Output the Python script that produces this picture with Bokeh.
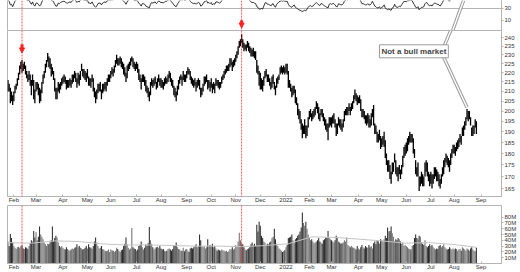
import numpy as np
import pandas as pd
from bokeh.plotting import figure
from bokeh.layouts import column
from bokeh.models import (Range1d, FixedTicker, Span, Label, Arrow, NormalHead,
                          LinearAxis, PrintfTickFormatter, ColumnDataSource)
from bokeh.embed import file_html
from bokeh.resources import INLINE

# ---------------- data ----------------
holidays = ["2021-02-15", "2021-04-02", "2021-05-31", "2021-07-05", "2021-09-06",
            "2021-11-25", "2021-12-24", "2022-01-17", "2022-02-21", "2022-04-15",
            "2022-05-30", "2022-06-20", "2022-07-04"]
month_labels = ["Feb", "Mar", "Apr", "May", "Jun", "Jul", "Aug", "Sep", "Oct", "Nov",
                "Dec", "2022", "Feb", "Mar", "Apr", "May", "Jun", "Jul", "Aug", "Sep"]
price_ticks = [165, 170, 175, 180, 185, 190, 195, 200, 205, 210, 215, 220, 225, 230, 235, 240]
rsi_ticks = [10, 30]
vol_ticks = [10, 20, 30, 40, 50, 60, 70, 80]

low = (
    [210, 210, 204, 205, 203]
    + [205, 209, 211, 213, 216, 219, 222, 220, 221, 222, 219, 217, 215, 216, 213, 208, 213, 206, 204]
    + [210, 211, 208, 204, 205, 209, 214, 217, 220, 223, 226, 223, 222, 218, 219, 216, 210, 206, 206, 210, 209, 211, 213]
    + [214, 215, 214, 211, 212, 212, 213, 212, 214, 215, 217, 215, 212, 214, 213, 216, 221, 218, 217, 216, 215]
    + [217, 213, 213, 212, 215, 210, 207, 204, 206, 209, 210, 210, 206, 209, 210, 211, 210, 213, 215, 215]
    + [217, 219, 218, 220, 223, 225, 224, 224, 225, 223, 222, 219, 218, 215, 217, 221, 222, 224, 226, 223, 222, 221]
    + [222, 220, 216, 215, 211, 215, 215, 213, 210, 209, 207, 205, 208, 213, 212, 213, 214, 211, 212, 215, 213]
    + [212, 212, 211, 213, 214, 214, 215, 217, 215, 213, 212, 208, 207, 205, 208, 211, 214, 216, 213, 216, 215, 215]
    + [217, 219, 219, 216, 214, 213, 212, 213, 210, 212, 213, 211, 207, 208, 210, 213, 214, 215, 211, 212, 210]
    + [212, 209, 211, 209, 213, 213, 212, 211, 212, 214, 216, 217, 219, 220, 221, 221, 223, 224, 221, 223, 224]
    + [226, 228, 230, 234, 235, 237, 234, 232, 233, 232, 234, 232, 231, 229, 229, 229, 228, 227, 220, 219, 213]
    + [211, 211, 210, 213, 217, 218, 215, 215, 213, 211, 212, 214, 211, 208, 212, 214, 216, 219, 220, 219, 220, 219]
    + [220, 219, 212, 212, 210, 207, 208, 209, 204, 203, 198, 196, 194, 191, 187, 189, 189, 187, 188, 192]
    + [196, 197, 195, 196, 197, 198, 201, 199, 196, 195, 198, 197, 195, 193, 191, 190, 186, 192, 193]
    + [192, 194, 194, 192, 188, 189, 193, 192, 191, 190, 192, 195, 198, 198, 198, 200, 198, 200, 201, 204, 206, 205, 203]
    + [204, 204, 200, 197, 197, 196, 194, 193, 194, 192, 192, 193, 197, 193, 189, 189, 185, 185, 186, 182]
    + [183, 184, 183, 178, 175, 172, 172, 169, 167, 171, 172, 176, 171, 170, 168, 171, 169, 171, 174, 178, 179]
    + [180, 181, 184, 185, 185, 185, 180, 178, 171, 170, 170, 164, 166, 167, 166, 166, 170, 172, 170, 168, 166]
    + [167, 165, 167, 169, 170, 168, 168, 166, 165, 167, 170, 171, 174, 176, 175, 174, 172, 175, 178, 180]
    + [180, 179, 181, 182, 183, 185, 184, 188, 188, 191, 193, 196, 195, 196, 193, 188, 188, 189, 192, 189]
)
high = (
    [216, 214, 212, 210, 208]
    + [210, 213, 214, 217, 220, 224, 226, 227, 225, 226, 224, 221, 219, 221, 219, 216, 219, 216, 211]
    + [215, 215, 214, 212, 211, 215, 219, 221, 225, 227, 231, 229, 228, 225, 223, 221, 217, 212, 212, 215, 214, 215, 217]
    + [218, 219, 218, 216, 216, 216, 217, 216, 219, 219, 221, 220, 217, 220, 219, 221, 225, 222, 222, 221, 220]
    + [222, 218, 217, 217, 219, 217, 212, 210, 211, 214, 214, 215, 211, 214, 214, 215, 215, 217, 219, 219]
    + [221, 223, 222, 224, 227, 230, 228, 228, 229, 228, 226, 225, 223, 220, 224, 225, 226, 228, 229, 228, 226, 225]
    + [226, 225, 222, 219, 217, 219, 219, 218, 216, 213, 212, 210, 215, 217, 216, 217, 218, 215, 217, 219, 217]
    + [217, 216, 215, 217, 218, 217, 219, 221, 220, 217, 216, 213, 212, 210, 213, 216, 218, 219, 218, 221, 219, 219]
    + [221, 223, 222, 221, 218, 217, 216, 217, 215, 216, 217, 216, 212, 212, 214, 218, 218, 219, 216, 216, 215]
    + [217, 214, 215, 214, 217, 216, 216, 215, 215, 218, 219, 221, 222, 224, 224, 225, 228, 228, 226, 227, 228]
    + [230, 232, 235, 238, 239, 242, 239, 237, 236, 236, 238, 237, 235, 234, 233, 234, 232, 232, 227, 224, 221]
    + [220, 217, 216, 218, 221, 222, 219, 219, 217, 215, 218, 219, 215, 213, 217, 218, 219, 223, 224, 223, 224, 223]
    + [225, 225, 221, 216, 214, 212, 213, 213, 211, 207, 204, 201, 200, 196, 194, 193, 196, 193, 193, 197]
    + [200, 201, 199, 200, 201, 202, 205, 204, 202, 199, 201, 201, 199, 197, 196, 194, 194, 197, 197]
    + [197, 198, 199, 196, 194, 194, 197, 196, 196, 194, 196, 200, 201, 202, 202, 204, 202, 204, 205, 208, 211, 209, 208]
    + [207, 208, 206, 201, 201, 200, 198, 198, 199, 198, 196, 199, 201, 203, 194, 193, 190, 189, 191, 188]
    + [187, 188, 190, 186, 180, 177, 177, 175, 172, 176, 176, 180, 177, 174, 174, 175, 173, 175, 179, 183, 184]
    + [185, 187, 188, 190, 189, 189, 187, 182, 177, 174, 176, 170, 170, 172, 171, 170, 176, 177, 176, 172, 171]
    + [172, 171, 171, 174, 174, 173, 172, 171, 169, 171, 174, 177, 178, 180, 179, 178, 177, 180, 182, 184]
    + [184, 183, 185, 186, 187, 189, 188, 192, 193, 195, 197, 201, 200, 200, 197, 192, 193, 193, 196, 195]
)
volume = (  # millions
    [38, 30, 51, 44, 36]
    + [30, 27, 25, 28, 29, 27, 30, 31, 26, 25, 28, 27, 25, 30, 35, 40, 38, 56, 45]
    + [54, 40, 46, 64, 50, 46, 42, 36, 33, 30, 34, 33, 36, 40, 64, 38, 44, 48, 45, 36, 30, 28, 30]
    + [27, 25, 24, 28, 25, 23, 22, 24, 26, 25, 27, 28, 33, 28, 30, 27, 26, 24, 25, 27, 30]
    + [26, 33, 28, 27, 25, 30, 38, 45, 36, 30, 26, 27, 30, 25, 24, 22, 21, 22, 24, 20]
    + [24, 23, 22, 20, 22, 27, 25, 22, 20, 23, 24, 30, 34, 45, 33, 27, 24, 26, 61, 28, 26, 25]
    + [22, 24, 30, 32, 38, 28, 24, 27, 33, 30, 35, 63, 40, 34, 28, 24, 26, 28, 29, 27, 30]
    + [26, 24, 25, 22, 21, 22, 25, 26, 24, 22, 25, 30, 32, 36, 28, 25, 24, 22, 22, 27, 21, 24]
    + [25, 22, 20, 26, 27, 26, 28, 30, 33, 28, 30, 50, 40, 30, 28, 30, 26, 28, 42, 30, 32]
    + [30, 34, 28, 30, 26, 22, 24, 23, 22, 24, 23, 22, 21, 22, 20, 21, 25, 24, 28, 24, 26]
    + [32, 30, 38, 53, 40, 35, 33, 28, 24, 23, 25, 26, 28, 33, 36, 32, 34, 30, 67, 55, 72]
    + [65, 48, 44, 38, 36, 32, 34, 33, 36, 38, 44, 46, 60, 42, 34, 30, 26, 24, 22, 20, 21, 23]
    + [28, 32, 44, 45, 46, 50, 40, 35, 42, 44, 48, 50, 55, 62, 88, 70, 65, 72, 60, 50]
    + [45, 40, 42, 38, 35, 36, 38, 40, 44, 38, 36, 34, 40, 42, 45, 44, 56, 44, 42]
    + [40, 38, 36, 40, 48, 44, 38, 36, 34, 35, 36, 40, 38, 45, 32, 30, 28, 30, 28, 27, 26, 24, 30]
    + [26, 24, 28, 32, 28, 26, 30, 28, 27, 32, 28, 30, 26, 35, 38, 33, 40, 38, 34, 42]
    + [40, 38, 42, 48, 44, 62, 55, 56, 64, 52, 46, 38, 42, 40, 44, 42, 38, 34, 36, 30, 32]
    + [30, 28, 26, 25, 24, 30, 32, 44, 50, 44, 42, 48, 46, 36, 34, 32, 40, 30, 28, 30, 33]
    + [30, 32, 28, 26, 24, 26, 25, 30, 32, 28, 30, 33, 28, 26, 24, 25, 28, 26, 24, 26]
    + [24, 26, 25, 22, 24, 25, 22, 28, 26, 24, 22, 26, 24, 22, 26, 28, 24, 22, 21, 27]
)
rsi = (
    [44, 42, 36, 37, 33]
    + [38, 42, 44, 47, 49, 51, 52, 51, 50, 50, 47, 44, 43, 44, 40, 37, 41, 36, 34]
    + [39, 39, 37, 34, 36, 41, 45, 47, 49, 50, 51, 48, 48, 44, 43, 41, 37, 34, 34, 39, 38, 40, 41]
    + [42, 42, 41, 39, 39, 40, 41, 40, 43, 44, 45, 43, 40, 42, 41, 44, 47, 45, 44, 44, 43]
    + [44, 39, 39, 38, 41, 37, 34, 32, 34, 38, 39, 39, 36, 39, 40, 41, 40, 43, 44, 44]
    + [44, 45, 44, 46, 48, 49, 48, 48, 48, 47, 44, 42, 40, 37, 41, 44, 45, 48, 49, 45, 44, 43]
    + [44, 42, 39, 37, 34, 38, 38, 37, 34, 33, 32, 31, 37, 40, 39, 40, 41, 38, 40, 43, 41]
    + [40, 40, 39, 41, 42, 42, 44, 45, 44, 41, 39, 36, 34, 33, 37, 40, 43, 45, 44, 45, 44, 44]
    + [45, 47, 45, 42, 40, 39, 38, 39, 37, 39, 40, 39, 34, 35, 38, 41, 42, 43, 39, 40, 38]
    + [40, 36, 38, 37, 41, 41, 40, 39, 40, 43, 45, 45, 47, 48, 47, 48, 50, 49, 45, 47, 48]
    + [48, 50, 52, 54, 55, 56, 51, 49, 49, 48, 48, 45, 43, 41, 40, 40, 39, 38, 33, 32, 29]
    + [29, 30, 29, 34, 39, 40, 37, 37, 36, 34, 37, 38, 34, 32, 37, 39, 41, 42, 43, 42, 43, 42]
    + [42, 42, 37, 34, 33, 32, 34, 36, 32, 31, 29, 28, 27, 26, 25, 26, 27, 26, 29, 32]
    + [34, 35, 33, 34, 36, 38, 40, 38, 36, 35, 38, 38, 36, 34, 33, 32, 31, 37, 38]
    + [37, 38, 38, 36, 33, 33, 38, 37, 36, 36, 38, 42, 44, 45, 44, 46, 44, 47, 48, 49, 50, 48, 45]
    + [45, 46, 42, 38, 38, 37, 36, 36, 38, 36, 36, 38, 42, 38, 34, 33, 31, 31, 33, 30]
    + [32, 33, 36, 31, 29, 28, 29, 28, 27, 31, 32, 37, 33, 32, 32, 34, 33, 36, 39, 42, 42]
    + [41, 43, 43, 44, 44, 43, 39, 36, 32, 31, 33, 28, 30, 32, 32, 33, 38, 40, 39, 36, 34]
    + [36, 34, 37, 39, 39, 37, 37, 36, 34, 37, 40, 44, 45, 47, 45, 44, 42, 45, 48, 49]
    + [48, 47, 49, 49, 50, 51, 50, 53, 53, 55, 56, 57, 54, 53, 49, 46, 45, 46, 48, 44]
)
vol_ma_day = [0, 20, 40, 60, 80, 100, 120, 140, 160, 180, 200, 220, 240, 260, 280, 300, 320, 340, 360, 380, 401]
vol_ma = [36, 35, 39, 38, 34, 32, 32, 31, 30, 30, 29, 31, 34, 46, 45, 42, 39, 35, 36, 33, 28]

# ---------------- calendar (trading-day index axis) ----------------
days = pd.bdate_range("2021-01-25", "2022-09-01")
days = days[~days.isin(pd.to_datetime(holidays))]
all_idx = np.arange(len(days))
month_first = pd.Series(all_idx, index=days).groupby([days.year, days.month]).min().values[1:]
n = len(low)
idx = all_idx[:n]

FONT = "Liberation Sans"
GRAY = "#b4b4b4"
TXT = "#333333"
RED = "#ff2020"
xr = Range1d(-0.43, 422.5)


def style_axis(ax):
    ax.axis_line_color = GRAY
    ax.major_tick_line_color = GRAY
    ax.major_tick_in = 0
    ax.major_tick_out = 2
    ax.minor_tick_line_color = None
    ax.major_label_text_font = FONT
    ax.major_label_text_font_size = "6px"
    ax.major_label_text_color = TXT
    ax.major_label_standoff = 1


def make(height, yr, ytype="linear", xaxis=True):
    p = figure(width=520, height=height, x_range=xr, y_range=yr, y_axis_type=ytype,
               y_axis_location="right", x_axis_location="below" if xaxis else None,
               output_backend="svg", toolbar_location=None,
               min_border_left=7, min_border_right=19, min_border_top=0, min_border_bottom=0,
               outline_line_color=GRAY, background_fill_color="white", border_fill_color="white")
    p.xgrid.visible = False
    p.ygrid.visible = False
    style_axis(p.yaxis[0])
    if xaxis:
        xa = p.xaxis[0]
        style_axis(xa)
        xa.major_tick_out = 0
        xa.major_tick_in = 2
        xa.major_label_standoff = 0
        xa.ticker = FixedTicker(ticks=[int(t) for t in month_first])
        xa.major_label_overrides = {int(t): s for t, s in zip(month_first, month_labels)}
    return p


peak1 = int(np.argmax(high[:24]))
peak2 = int(np.argmax(high))
peak3 = n - 30 + int(np.argmax(high[-30:]))

# ---------------- top indicator panel ----------------
ptop = make(30, Range1d(-6.7, 43.3), xaxis=False)
ptop.outline_line_color = None
ptop.yaxis[0].ticker = FixedTicker(ticks=rsi_ticks)
ptop.ygrid.visible = True
ptop.ygrid.ticker = FixedTicker(ticks=[30])
ptop.ygrid.grid_line_color = GRAY
ptop.add_layout(LinearAxis(ticker=FixedTicker(ticks=[]), axis_line_color=GRAY,
                           major_label_text_font_size="0px", major_tick_line_color=None,
                           minor_tick_line_color=None), "left")
ptop.line(idx, rsi, line_color="black", line_width=0.8)

# ---------------- price panel ----------------
pp = make(175, Range1d(161.8, 244.3), ytype="log")
pp.yaxis[0].ticker = FixedTicker(ticks=price_ticks)
pp.yaxis[0].formatter = PrintfTickFormatter(format="%d")
src = ColumnDataSource(dict(i=idx, low=low, high=high))
pp.segment(x0="i", y0="low", x1="i", y1="high", source=src, line_color="black", line_width=1.3)

# ---------------- volume panel ----------------
pv = make(67, Range1d(0, 100))
pv.yaxis[0].ticker = FixedTicker(ticks=vol_ticks)
pv.yaxis[0].formatter = PrintfTickFormatter(format="%dM")
mid = (np.array(low) + np.array(high)) / 2
up = np.r_[True, np.diff(mid) >= 0]
vcol = ["#707070" if u else "#2c2c2c" for u in up]
pv.vbar(x=idx, top=volume, bottom=0, width=0.9, fill_color=vcol, line_color=None)
pv.line(vol_ma_day, vol_ma, line_color="#c4c4c4", line_width=1)

# ---------------- annotations ----------------
for p in (ptop, pp, pv):
    for pk in (peak1, peak2):
        p.add_layout(Span(location=pk, dimension="height", line_color=RED, line_alpha=0.75,
                          line_dash="2 1", line_width=1))

pp.add_layout(Arrow(x_start=peak1, y_start=high[peak1] * 1.04, x_end=peak1, y_end=high[peak1] * 1.018,
                    line_color=RED, line_width=3,
                    end=NormalHead(size=5, fill_color=RED, line_color=RED)))
ptop.add_layout(Arrow(x_start=peak2, y_start=10.5, x_end=peak2, y_end=-2.5,
                      line_color=RED, line_width=3,
                      end=NormalHead(size=5, fill_color=RED, line_color=RED)))

# callout pointers (double lines)
for w, c in ((3.4, "#9a9a9a"), (1.4, "white")):
    pp.line([372, 390], [232.8, 263.3], line_color=c, line_width=w)
    ptop.line([380.7, 390], [-6.7, 43.3], line_color=c, line_width=w)
    pp.line([372, peak3], [230.0, high[peak3] * 1.004], line_color=c, line_width=w)

pp.add_layout(Label(x=318, y=232.0, text="Not a bull market", text_font=FONT,
                    text_font_size="8px", text_font_style="bold", text_color="#444444",
                    text_baseline="middle", border_line_color="#9a9a9a",
                    background_fill_color="white", padding=2))

layout = column(ptop, pp, pv, spacing=0)
open("out.html", "w").write(file_html(layout, INLINE))
